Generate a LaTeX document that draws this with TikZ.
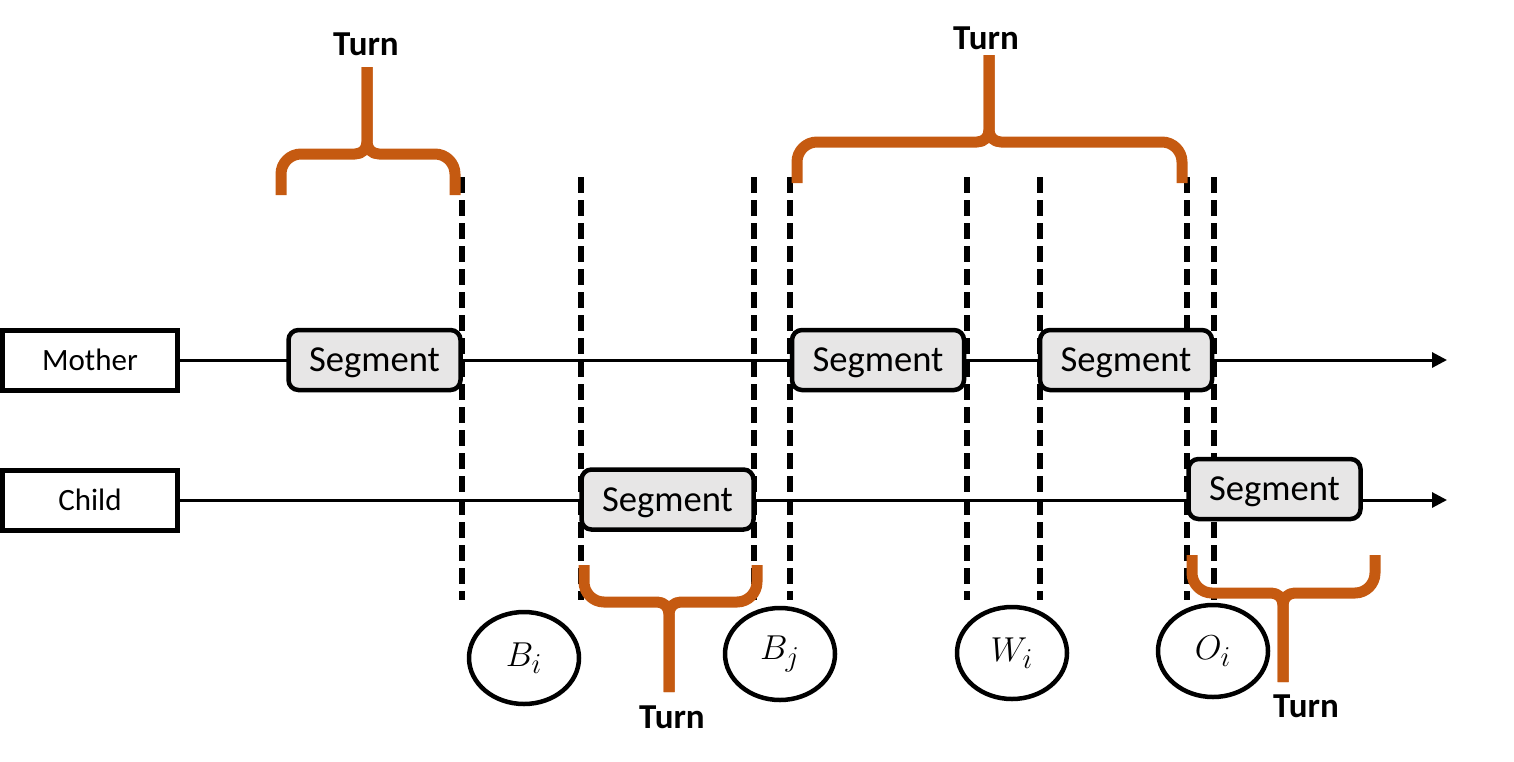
\documentclass[tikz,border=0pt]{standalone}
\usepackage{fontspec}
\setmainfont{Carlito}
\usetikzlibrary{arrows.meta,shapes.geometric}
\definecolor{brorange}{HTML}{C55A11}
\definecolor{segfill}{HTML}{E7E6E6}
\newcommand\orbrace[6]{%
  \pgfmathsetmacro\brsgn{(#3>#4) ? 1 : -1}%
  \draw[brc] (#1,#3) -- (#1,{#4+\brsgn*20}) .. controls (#1,{#4+\brsgn*9}) and ({#1+9},#4) .. ({#1+20},#4)
     -- ({#5-12},#4) .. controls ({#5-5},#4) and (#5,{#4-\brsgn*5}) .. (#5,{#4-\brsgn*12}) -- (#5,#6);
  \draw[brc] (#2,#3) -- (#2,{#4+\brsgn*20}) .. controls (#2,{#4+\brsgn*9}) and ({#2-9},#4) .. ({#2-20},#4)
     -- ({#5+12},#4) .. controls ({#5+5},#4) and (#5,{#4-\brsgn*5}) .. (#5,{#4-\brsgn*12}) -- (#5,#6);
}
\begin{document}
\begin{tikzpicture}[x=0.5pt,y=-0.5pt,
  lab/.style={draw,line width=2.5pt,minimum width=87.5pt,minimum height=30pt,inner sep=0pt,font=\fontsize{15.5}{18}\selectfont},
  seg/.style={draw,line width=2.25pt,rounded corners=5pt,fill=segfill,minimum width=86pt,minimum height=30pt,inner sep=0pt,text depth=0pt,font=\fontsize{18.3}{21}\selectfont},
  tline/.style={line width=1.5pt,-{Triangle[length=7.5pt,width=7.5pt]}},
  dline/.style={line width=3pt,dash pattern=on 8pt off 3.5pt},
  ell/.style={draw,ellipse,line width=2.25pt,minimum width=55pt,minimum height=46pt,inner sep=0pt,font=\fontsize{19}{21}\selectfont},
  brc/.style={draw=brorange,line width=5.5pt,line cap=butt,line join=round},
  turn/.style={font=\bfseries\fontsize{17.5}{20}\selectfont,inner sep=0pt}]
\useasboundingbox (0,0) rectangle (1514,761);
% row labels
\node[lab] (mother) at (90,360) {Mother};
\node[lab] (child) at (90,500) {Child};
\coordinate (mend) at (1447,360);
\coordinate (cend) at (1447,500);
\draw[tline] (mother.east) -- (mend);
\draw[tline] (child.east) -- (cend);
% dashed boundaries
\foreach \x/\n in {462/a,581/b,754/c,790/d,967/e,1040/f,1187/g,1214/h}{
  \coordinate (dt\n) at (\x,177);
  \coordinate (db\n) at (\x,600);
  \draw[dline] (dt\n) -- (db\n);
}
% segments
\node[seg] (m1) at (374.5,360) {Segment};
\node[seg] (m2) at (878,360) {Segment};
\node[seg] (m3) at (1126,360) {Segment};
\node[seg] (c1) at (667.5,499.5) {Segment};
\node[seg] (c2) at (1274.5,489) {Segment};
% ellipses
\node[ell] (bi) at (524,658) {$B_i$};
\node[ell] (bj) at (780,654) {$B_j$};
\node[ell] (wi) at (1012,653) {$W_i$};
\node[ell] (oi) at (1213,651) {$O_i$};
% braces
\orbrace{281}{455}{195}{154}{367}{67}
\orbrace{797}{1182}{183}{142}{989}{55}
\orbrace{584}{757}{565}{602}{669}{692}
\orbrace{1192}{1375}{555}{593}{1283}{682}
\node[turn] (t1) at (366,44) {Turn};
\node[turn] (t2) at (986,38) {Turn};
\node[turn] (t3) at (672,717) {Turn};
\node[turn] (t4) at (1306,706) {Turn};
\end{tikzpicture}
\end{document}
